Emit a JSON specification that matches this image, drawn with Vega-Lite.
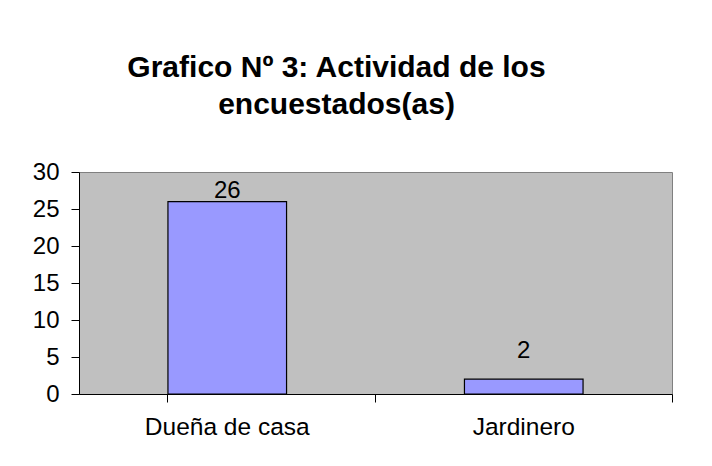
{
  "$schema": "https://vega.github.io/schema/vega-lite/v6.json",
  "autosize": "none",
  "width": 593,
  "height": 222,
  "padding": {"left": 79, "top": 172, "right": 40, "bottom": 72},
  "background": "white",
  "title": {
    "text": ["Grafico Nº 3: Actividad de los", "encuestados(as)"],
    "font": "Liberation Sans",
    "fontSize": 30,
    "fontWeight": "bold",
    "color": "black",
    "anchor": "middle",
    "dx": -39,
    "lineHeight": 37,
    "offset": 40
  },
  "data": {
    "values": [
      {"actividad": "Dueña de casa", "n": 26},
      {"actividad": "Jardinero", "n": 2}
    ]
  },
  "config": {
    "view": {"fill": "#C0C0C0", "stroke": "#808080", "strokeWidth": 1},
    "font": "Liberation Sans"
  },
  "encoding": {
    "x": {
      "field": "actividad",
      "type": "nominal",
      "sort": null,
      "scale": {"paddingInner": 0.6, "paddingOuter": 0.3},
      "axis": {
        "title": null,
        "labelAngle": 0,
        "labelFont": "Liberation Sans",
        "labelFontSize": 24.5,
        "labelColor": "black",
        "labelPadding": 13,
        "tickSize": 8,
        "tickColor": "black",
        "domainColor": "black",
        "bandPosition": 1.75,
        "tickExtra": true,
        "grid": false
      }
    },
    "y": {
      "field": "n",
      "type": "quantitative",
      "scale": {"domain": [0, 30], "nice": false},
      "axis": {
        "title": null,
        "values": [0, 5, 10, 15, 20, 25, 30],
        "labelFont": "Liberation Sans",
        "labelFontSize": 24,
        "labelColor": "black",
        "labelPadding": 12,
        "tickSize": 8,
        "tickColor": "black",
        "domainColor": "black",
        "grid": false
      }
    }
  },
  "layer": [
    {
      "mark": {"type": "bar", "fill": "#9999FF", "stroke": "black", "strokeWidth": 1.2}
    },
    {
      "transform": [{"filter": "datum.n > 20"}],
      "mark": {"type": "text", "font": "Liberation Sans", "fontSize": 24, "color": "black", "baseline": "alphabetic", "dy": -4},
      "encoding": {
        "text": {"field": "n", "type": "quantitative"}
      }
    },
    {
      "transform": [{"filter": "datum.n <= 20"}],
      "mark": {"type": "text", "font": "Liberation Sans", "fontSize": 24, "color": "black", "baseline": "alphabetic", "dy": -21},
      "encoding": {
        "text": {"field": "n", "type": "quantitative"}
      }
    }
  ]
}
